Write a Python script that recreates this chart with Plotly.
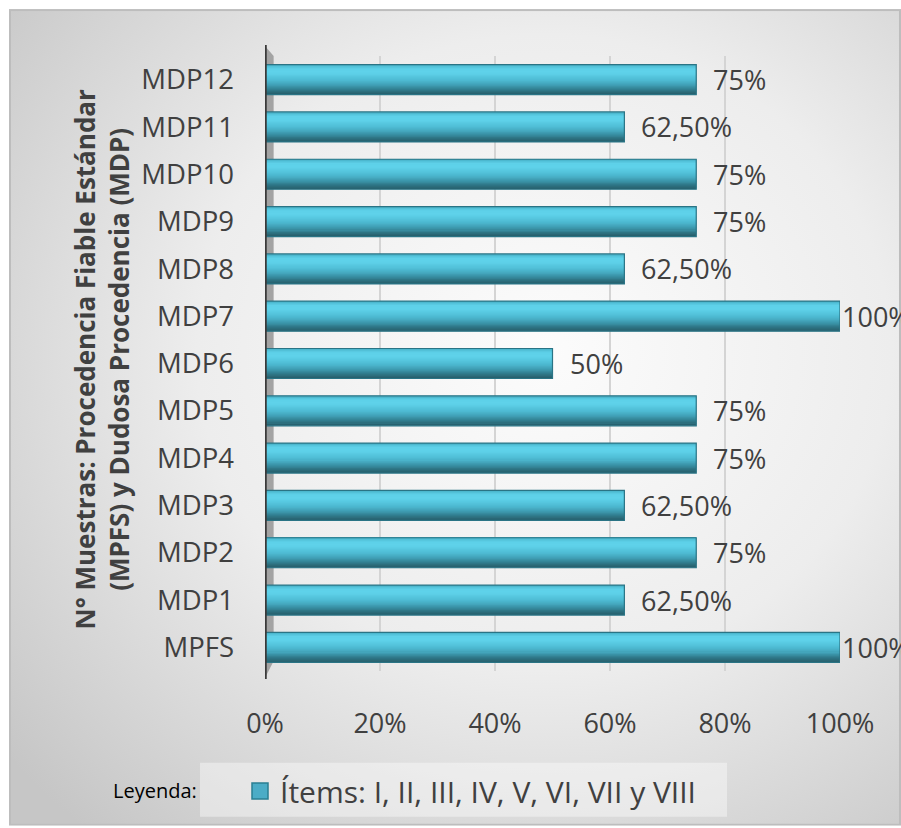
import base64
import plotly.graph_objects as go

# Samples and their item agreement (%)
categories = ["MPFS", "MDP1", "MDP2", "MDP3", "MDP4", "MDP5", "MDP6",
              "MDP7", "MDP8", "MDP9", "MDP10", "MDP11", "MDP12"]
values = [100, 62.5, 75, 62.5, 75, 75, 50, 100, 62.5, 75, 75, 62.5, 75]
x_ticks = [0, 20, 40, 60, 80, 100]
x_tick_text = ["0%", "20%", "40%", "60%", "80%", "100%"]
series_name = "Ítems: I, II, III, IV, V, VI, VII y VIII"
y_title = "N° Muestras: Procedencia Fiable Estándar<br>(MPFS) y Dudosa Procedencia (MDP)"


def fmt(v):
    if float(v).is_integer():
        return f"{int(v)}%"
    return f"{v:.2f}".replace(".", ",") + "%"


W, H = 901, 828
ML, MR, MT, MB = 265, 61, 56, 156
PW, PH = W - ML - MR, H - MT - MB


def px_x(px):
    return (px - ML) / PW


def px_y(py):
    return (H - MB - py) / PH


FONT = "Open Sans"
TXT = "#404040"

fig = go.Figure()


def hex2rgb(h):
    h = h.lstrip("#")
    return [int(h[i:i + 2], 16) for i in (0, 2, 4)]


def shade_ramp(stops, n):
    """Blend a list of hex stops into n colours (bottom -> top)."""
    out = []
    for k in range(n):
        t = k / (n - 1) * (len(stops) - 1)
        i = min(int(t), len(stops) - 2)
        f = t - i
        a, b = hex2rgb(stops[i]), hex2rgb(stops[i + 1])
        c = [round(a[j] + (b[j] - a[j]) * f) for j in range(3)]
        out.append("rgb({},{},{})".format(*c))
    return out


# cylinder look: thin horizontal bands from bottom (dark) to top (light)
bar_w = 0.634
stops = ["#275f6c", "#2f7686", "#3a92a6", "#46aac1", "#4fbcd4",
         "#57c8e0", "#5fd2ea", "#5ed1e9", "#4cb8cf"]
n_bands = 24
bands = shade_ramp(stops, n_bands)
bh = bar_w / n_bands
for i, col in enumerate(bands):
    fig.add_trace(go.Bar(
        y=categories, x=values, orientation="h",
        width=bh * 1.6 if i < n_bands - 1 else bh, offset=-bar_w / 2 + i * bh,
        marker=dict(color=col, line=dict(width=0)),
        showlegend=False, hoverinfo="skip",
    ))
# outline of each bar
fig.add_trace(go.Bar(
    y=categories, x=values, orientation="h",
    width=bar_w, offset=-bar_w / 2,
    marker=dict(color="rgba(0,0,0,0)", line=dict(color="#2a7485", width=1.2)),
    showlegend=False, hoverinfo="skip",
))

# legend entry
fig.add_trace(go.Scatter(
    x=[None], y=[None], mode="markers", name=series_name,
    marker=dict(symbol="square", size=18, color="#4bacc6",
                line=dict(color="#2a7f92", width=1.5)),
))

# value labels (labels at the axis end sit right against the bar)
for c, v in zip(categories, values):
    fig.add_annotation(x=v, y=c, xref="x", yref="y", text=fmt(v),
                       showarrow=False, xanchor="left",
                       xshift=0 if v >= x_ticks[-1] else 15,
                       font=dict(family=FONT, size=27, color=TXT))

# chart-area background with soft radial shading
bw, bhh = 892, 818
svg = (f'<svg xmlns="http://www.w3.org/2000/svg" width="{bw}" height="{bhh}">'
       '<defs><radialGradient id="g" cx="0.6" cy="0.42" r="0.78">'
       '<stop offset="0" stop-color="#fcfcfc"/><stop offset="0.5" stop-color="#ededed"/>'
       '<stop offset="1" stop-color="#c6c6c6"/></radialGradient></defs>'
       f'<rect x="1" y="1" width="{bw-2}" height="{bhh-2}" fill="url(#g)" '
       'stroke="#bdbdbd" stroke-width="2"/></svg>')
uri = "data:image/svg+xml;base64," + base64.b64encode(svg.encode()).decode()
fig.add_layout_image(dict(source=uri, xref="paper", yref="paper",
                          x=px_x(9), y=px_y(9), sizex=bw / PW, sizey=bhh / PH,
                          xanchor="left", yanchor="top", sizing="stretch",
                          layer="below"))

# legend panel
fig.add_shape(type="rect", xref="paper", yref="paper", layer="below",
              x0=px_x(200), x1=px_x(727), y0=px_y(818), y1=px_y(764),
              fillcolor="rgba(255,255,255,0.4)", line=dict(width=0))

# side wall and axis post
fig.add_shape(type="path", xref="x", yref="paper", layer="below",
              path=f"M 0,{px_y(46)} L 1.5,{px_y(56)} L 1.5,{px_y(662)} L 0,{px_y(679)} Z",
              fillcolor="#a3a3a3", line=dict(width=0))
fig.add_shape(type="line", xref="x", yref="paper", x0=0, x1=0,
              y0=px_y(680), y1=px_y(45), line=dict(color="#3a3a3a", width=3.5))

# axis title and legend caption
fig.add_annotation(x=px_x(102), y=px_y(360), xref="paper", yref="paper",
                   text=y_title, textangle=-90, showarrow=False,
                   xanchor="center", yanchor="middle",
                   font=dict(family=FONT, size=26, color=TXT, weight="bold"))
fig.add_annotation(x=px_x(199), y=px_y(792), xref="paper", yref="paper",
                   text="Leyenda:", showarrow=False, xanchor="right",
                   yanchor="middle", font=dict(family=FONT, size=20, color="#000000"))

fig.update_layout(
    width=W, height=H,
    margin=dict(l=ML, r=MR, t=MT, b=MB),
    paper_bgcolor="white", plot_bgcolor="rgba(0,0,0,0)",
    barmode="overlay",
    font=dict(family=FONT, color=TXT),
    showlegend=True,
    legend=dict(x=px_x(240), y=px_y(791), xanchor="left", yanchor="middle",
                orientation="h", bgcolor="rgba(0,0,0,0)",
                font=dict(family=FONT, size=30, color=TXT),
                itemwidth=30, tracegroupgap=0),
    xaxis=dict(range=[0, 100], tickvals=x_ticks, ticktext=x_tick_text,
               showgrid=True, gridcolor="#d4d4d4", gridwidth=1.5,
               zeroline=False, showline=False, ticks="",
               ticklabelstandoff=34,
               tickfont=dict(family=FONT, size=27, color=TXT)),
    yaxis=dict(categoryorder="array", categoryarray=categories,
               range=[-0.5, len(categories) - 0.5],
               showgrid=False, zeroline=False, showline=False, ticks="",
               ticklabelstandoff=30,
               tickfont=dict(family=FONT, size=27.5, color=TXT)),
)

fig.write_html("out.html")
